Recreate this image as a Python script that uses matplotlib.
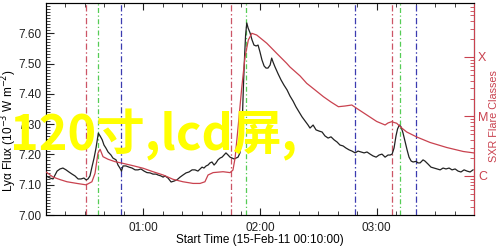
import matplotlib
matplotlib.use("Agg")
import matplotlib.pyplot as plt
from matplotlib.ticker import FixedLocator, MultipleLocator, LogLocator, NullFormatter, FixedFormatter

# ---- data ----
# Lyman-alpha flux (1e-3 W m^-2) vs minutes after 00:10:00
lya_t = [0.0, 2.1, 3.6, 5.7, 7.2, 8.7, 10.3, 11.8, 13.4, 14.9, 16.5, 18.0, 19.5, 20.6, 21.6, 22.6,
         23.6, 24.7, 25.7, 26.9, 27.8, 28.9, 29.8, 30.8, 31.9, 33.4, 34.4, 36.0, 37.0, 38.0, 38.8,
         39.6, 41.1, 42.7, 44.2, 45.8, 47.3, 48.8, 50.4, 51.9, 53.5, 55.0, 56.6, 57.6, 59.1, 60.2,
         61.2, 62.7, 64.3, 65.8, 67.3, 68.9, 70.4, 72.0, 73.5, 75.1, 76.6, 78.1, 79.2, 80.2, 81.2,
         82.3, 83.3, 84.3, 85.3, 86.4, 87.4, 88.4, 89.5, 90.5, 91.5, 92.5, 93.6, 94.6, 95.6, 96.7,
         97.7, 98.7, 99.7, 100.5, 101.0, 101.5, 102.1, 102.6, 103.2, 103.9, 104.9, 105.9, 106.9,
         108.0, 109.0, 110.0, 111.0, 112.1, 113.1, 114.1, 115.2, 116.0, 116.7, 117.7, 119.3, 120.8,
         122.3, 123.9, 125.4, 127.0, 128.5, 130.1, 131.6, 133.2, 134.7, 135.7, 137.3, 138.8, 140.4,
         141.9, 143.4, 145.0, 146.5, 148.1, 149.6, 151.1, 152.7, 154.2, 155.8, 157.3, 158.9, 160.4,
         161.9, 163.5, 165.0, 166.6, 168.1, 169.7, 171.2, 172.7, 174.3, 175.8, 176.9, 177.9, 178.9,
         179.9, 180.7, 181.6, 182.5, 183.5, 184.6, 185.6, 186.6, 187.7, 188.7, 190.2, 191.2, 192.3,
         193.8, 194.8, 196.4, 197.9, 199.5, 201.0, 202.6, 204.1, 205.6, 207.2, 208.7, 210.3, 211.8,
         213.3, 214.9, 216.4, 218.0, 219.5]
lya_v = [7.129, 7.122, 7.119, 7.145, 7.152, 7.155, 7.149, 7.142, 7.135, 7.129, 7.119, 7.119, 7.122,
         7.116, 7.119, 7.129, 7.158, 7.188, 7.221, 7.270, 7.261, 7.248, 7.231, 7.221, 7.208, 7.198,
         7.188, 7.182, 7.165, 7.155, 7.145, 7.162, 7.162, 7.158, 7.155, 7.149, 7.149, 7.152, 7.145,
         7.140, 7.139, 7.135, 7.135, 7.132, 7.129, 7.125, 7.129, 7.122, 7.109, 7.112, 7.116, 7.125,
         7.132, 7.139, 7.142, 7.149, 7.149, 7.145, 7.152, 7.158, 7.155, 7.162, 7.165, 7.172, 7.175,
         7.165, 7.172, 7.182, 7.188, 7.191, 7.198, 7.205, 7.198, 7.191, 7.188, 7.185, 7.188, 7.191,
         7.205, 7.248, 7.330, 7.429, 7.528, 7.594, 7.634, 7.617, 7.601, 7.578, 7.561, 7.558, 7.561,
         7.538, 7.512, 7.492, 7.485, 7.485, 7.495, 7.518, 7.505, 7.489, 7.466, 7.446, 7.429, 7.413,
         7.393, 7.376, 7.357, 7.340, 7.324, 7.310, 7.297, 7.287, 7.297, 7.281, 7.277, 7.274, 7.261,
         7.254, 7.258, 7.248, 7.241, 7.231, 7.228, 7.221, 7.215, 7.211, 7.205, 7.211, 7.208, 7.205,
         7.208, 7.201, 7.195, 7.191, 7.198, 7.201, 7.191, 7.198, 7.198, 7.201, 7.221, 7.261, 7.284,
         7.297, 7.291, 7.271, 7.241, 7.215, 7.191, 7.178, 7.175, 7.177, 7.172, 7.172, 7.182, 7.178,
         7.168, 7.158, 7.155, 7.152, 7.149, 7.155, 7.152, 7.155, 7.149, 7.152, 7.145, 7.142, 7.149,
         7.145, 7.142, 7.149]

# GOES SXR flux (W m^-2) vs minutes after 00:10:00
sxr_t = [0.0, 3.6, 7.2, 10.8, 15.9, 20.6, 23.6, 25.2, 26.7, 27.8, 29.3, 31.9, 35.5, 39.6, 44.7,
         49.9, 55.0, 60.2, 65.3, 70.4, 75.6, 79.2, 81.7, 83.3, 85.9, 91.0, 94.6, 96.1, 97.2, 98.7,
         100.6, 102.3, 104.0, 105.8, 108.3, 113.5, 118.6, 123.7, 125.4, 130.6, 134.0, 138.3, 142.6,
         146.5, 150.3, 153.7, 157.2, 159.7, 164.9, 170.0, 174.3, 175.8, 177.7, 178.9, 180.3, 182.0,
         185.4, 190.6, 197.4, 206.0, 214.5, 220.0]
sxr_f = [1.17e-6, 9.6e-7, 8.7e-7, 8.0e-7, 7.5e-7, 7.1e-7, 8.0e-7, 1.11e-6, 2.41e-6, 2.81e-6,
         2.11e-6, 1.91e-6, 1.74e-6, 1.63e-6, 1.49e-6, 1.35e-6, 1.18e-6, 1.04e-6, 8.8e-7, 8.0e-7,
         7.5e-7, 7.5e-7, 8.0e-7, 1.04e-6, 1.14e-6, 1.18e-6, 1.14e-6, 1.26e-6, 2.01e-6, 6.41e-6,
         3.01e-5, 1.0e-4, 1.93e-4, 2.50e-4, 2.34e-4, 1.70e-4, 1.15e-4, 7.83e-5, 6.79e-5, 4.80e-5,
         3.61e-5, 2.79e-5, 2.15e-5, 1.75e-5, 1.46e-5, 1.50e-5, 1.56e-5, 1.37e-5, 1.06e-5, 8.24e-6,
         7.20e-6, 7.78e-6, 8.18e-6, 7.93e-6, 7.69e-6, 6.75e-6, 5.49e-6, 4.52e-6, 3.66e-6, 3.01e-6,
         2.58e-6, 2.44e-6]

# event markers (minutes after 00:10:00)
start_times = [20.6, 95.1, 177.7]
peak_times = [26.6, 102.8, 181.9]
end_times = [38.6, 159.0, 190.2]

x_ticks = [50, 110, 170]
x_ticklabels = ["01:00", "02:00", "03:00"]
y_ticks = [7.00, 7.10, 7.20, 7.30, 7.40, 7.50, 7.60]
class_levels = [1e-6, 1e-5, 1e-4]
class_labels = ["C", "M", "X"]

# ---- plot ----
RED = "#c9424f"
fig = plt.figure(figsize=(5.0, 2.46), dpi=100)
plt.rcParams["font.family"] = ["Liberation Sans", "DejaVu Sans"]
ax = fig.add_axes([0.092, 0.126, 0.856, 0.862])
ax2 = ax.twinx()

ax.plot(lya_t, lya_v, color="#222222", lw=0.9, zorder=3)
ax2.plot(sxr_t, sxr_f, color=RED, lw=0.9, zorder=3)

ls = (0, (5, 2, 1.2, 2))
for t in start_times:
    ax.axvline(t, color="#cc5566", lw=0.9, ls=ls, zorder=2)
for t in peak_times:
    ax.axvline(t, color="#55cc55", lw=0.9, ls=(0, (4, 2, 1, 2)), zorder=2)
for t in end_times:
    ax.axvline(t, color="#3b3bb0", lw=0.9, ls=ls, zorder=2)

ax.set_xlim(0, 220)
ax.set_ylim(7.0, 7.70)
ax.xaxis.set_major_locator(FixedLocator(x_ticks))
ax.xaxis.set_major_formatter(FixedFormatter(x_ticklabels))
ax.xaxis.set_minor_locator(MultipleLocator(10))
ax.yaxis.set_major_locator(FixedLocator(y_ticks))
ax.yaxis.set_major_formatter(FixedFormatter(["%.2f" % v for v in y_ticks]))
ax.yaxis.set_minor_locator(MultipleLocator(0.01))
ax.tick_params(axis="both", which="both", direction="in", labelsize=8.5, colors="#222222")
ax.tick_params(axis="x", which="both", top=True)
ax.tick_params(axis="x", which="major", length=5, pad=5)
ax.tick_params(axis="x", which="minor", length=3)
ax.tick_params(axis="y", which="major", length=6, pad=3)
ax.tick_params(axis="y", which="minor", length=3)
ax.set_xlabel("Start Time (15-Feb-11 00:10:00)", fontsize=8.5, labelpad=0)
ax.set_ylabel("Ly\u03b1 Flux (10$^{-3}$ W m$^{-2}$)", fontsize=8.5)
ax.yaxis.set_label_coords(-0.063, 0.40)

ax2.set_yscale("log")
ax2.set_ylim(2.21e-7, 8.09e-4)
ax2.yaxis.set_major_locator(FixedLocator(class_levels))
ax2.yaxis.set_major_formatter(FixedFormatter(class_labels))
ax2.yaxis.set_minor_locator(LogLocator(base=10, subs=[2, 3, 4, 5, 6, 7, 8, 9]))
ax2.yaxis.set_minor_formatter(NullFormatter())
ax2.tick_params(axis="y", which="both", direction="in", colors=RED, labelsize=9)
ax2.tick_params(axis="y", which="major", length=7, pad=3)
ax2.tick_params(axis="y", which="minor", length=3)
ax2.set_ylabel("SXR Flare Classes", color=RED, fontsize=7.8)
ax2.yaxis.set_label_coords(1.036, 0.467)
ax2.spines["right"].set_color(RED)
for s in ["left", "top", "bottom"]:
    ax.spines[s].set_color("#333333")

fig.text(0.02, 0.39, "120寸,lcd屏,", color="#ffff00", fontsize=35, fontweight="bold",
         family=["Noto Sans CJK SC", "DejaVu Sans"], ha="left", va="baseline", zorder=10)

fig.savefig("out.png", dpi=100)
